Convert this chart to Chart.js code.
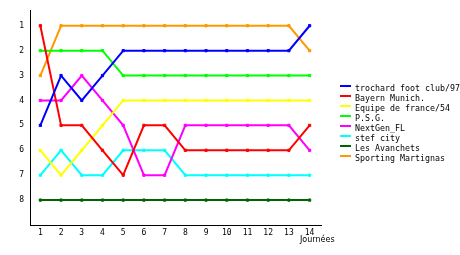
<!DOCTYPE html>
<html>
<head>
<meta charset="utf-8">
<script src="https://cdn.jsdelivr.net/npm/chart.js@4"></script>
<style>
  html, body { margin: 0; padding: 0; background: #fff; }
  canvas { display: block; }
</style>
</head>
<body>
<canvas id="classement" width="460" height="255"></canvas>
<script>
// journées et classements
const journees = [1, 2, 3, 4, 5, 6, 7, 8, 9, 10, 11, 12, 13, 14];
const rangs = [1, 2, 3, 4, 5, 6, 7, 8];

const equipes = ['trochard foot club/97', 'Bayern Munich.', 'Equipe de france/54', 'P.S.G.',
                 'NextGen_FL', 'stef city', 'Les Avanchets', 'Sporting Martignas'];
const couleurs = ['#0000ff', '#ff0000', '#ffff00', '#00ff00', '#ff00ff', '#00ffff', '#006400', '#ff9900'];

const trochard  = [5, 3, 4, 3, 2, 2, 2, 2, 2, 2, 2, 2, 2, 1];
const bayern    = [1, 5, 5, 6, 7, 5, 5, 6, 6, 6, 6, 6, 6, 5];
const equipeFr  = [6, 7, 6, 5, 4, 4, 4, 4, 4, 4, 4, 4, 4, 4];
const psg       = [2, 2, 2, 2, 3, 3, 3, 3, 3, 3, 3, 3, 3, 3];
const nextgen   = [4, 4, 3, 4, 5, 7, 7, 5, 5, 5, 5, 5, 5, 6];
const stefCity  = [7, 6, 7, 7, 6, 6, 6, 7, 7, 7, 7, 7, 7, 7];
const avanchets = [8, 8, 8, 8, 8, 8, 8, 8, 8, 8, 8, 8, 8, 8];
const sporting  = [3, 1, 1, 1, 1, 1, 1, 1, 1, 1, 1, 1, 1, 2];

const series = [trochard, bayern, equipeFr, psg, nextgen, stefCity, avanchets, sporting];

const datasets = series.map(function(valeurs, i) {
    return {
        label: equipes[i],
        data: valeurs.map((v, j) => ({ x: journees[j], y: v })),
        borderColor: couleurs[i],
        backgroundColor: couleurs[i],
        borderWidth: 2,
        pointStyle: 'rect',
        pointRadius: 1.6,
        pointBorderWidth: 1,
        tension: 0,
        fill: false
    };
});

const petitePolice = { family: '"DejaVu Sans Mono", monospace', size: 8 };

// légende et titre dessinés à la main, comme sur l'original
const legendePlugin = {
    id: 'legende',
    afterDraw(chart) {
        const ctx = chart.ctx;
        ctx.save();
        ctx.font = '8.3px "DejaVu Sans Mono", monospace';
        ctx.textBaseline = 'middle';
        ctx.textAlign = 'left';
        chart.data.datasets.forEach(function(ds, i) {
            const y = 86 + i * 10;
            ctx.strokeStyle = ds.borderColor;
            ctx.lineWidth = 2;
            ctx.beginPath();
            ctx.moveTo(340, y);
            ctx.lineTo(351, y);
            ctx.stroke();
            ctx.fillStyle = '#000';
            ctx.fillText(ds.label, 355, y + 3);
        });
        ctx.font = '8px "DejaVu Sans", sans-serif';
        ctx.fillText('Journées', 300, 240);
        ctx.restore();
    }
};

new Chart(document.getElementById('classement'), {
    type: 'line',
    data: { datasets: datasets },
    plugins: [legendePlugin],
    options: {
        responsive: false,
        animation: false,
        layout: { padding: { top: 10, right: 139, left: 0, bottom: 0 } },
        plugins: {
            legend: { display: false },
            tooltip: { enabled: false }
        },
        scales: {
            x: {
                type: 'linear',
                min: 0.5,
                max: 14.55,
                grid: { display: false, drawTicks: false },
                border: { display: true, color: '#000', width: 1 },
                afterBuildTicks: function(scale) {
                    scale.ticks = journees.map(v => ({ value: v }));
                },
                afterFit: function(scale) { scale.height = 30; },
                ticks: {
                    color: '#000',
                    font: petitePolice,
                    padding: 3,
                    maxRotation: 0,
                    autoSkip: false
                }
            },
            y: {
                reverse: true,
                min: 0.4,
                max: 9,
                grid: { display: false, drawTicks: false },
                border: { display: true, color: '#000', width: 1 },
                afterBuildTicks: function(scale) {
                    scale.ticks = rangs.map(v => ({ value: v }));
                },
                afterFit: function(scale) { scale.width = 30; },
                ticks: {
                    color: '#000',
                    font: petitePolice,
                    padding: 6
                }
            }
        }
    }
});
</script>
</body>
</html>
